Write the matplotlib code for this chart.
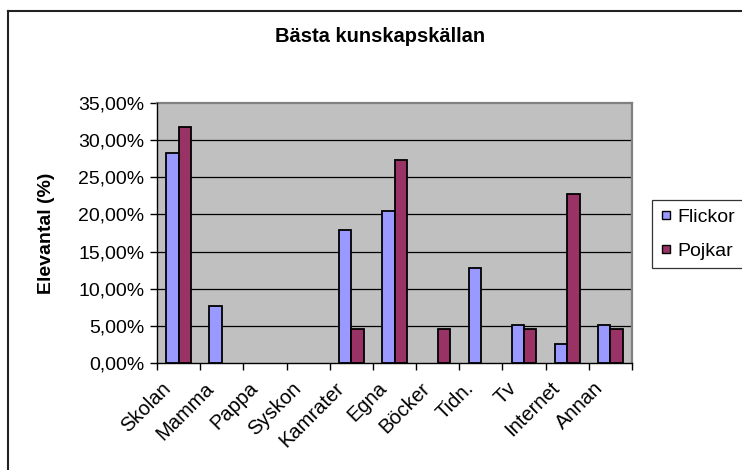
import matplotlib
matplotlib.use("Agg")
import matplotlib.pyplot as plt
from matplotlib.lines import Line2D
from matplotlib.ticker import FuncFormatter, FixedLocator
import numpy as np

plt.rcParams['font.family'] = ['Liberation Sans', 'DejaVu Sans']

title = "Bästa kunskapskällan"
ylabel = "Elevantal (%)"
categories = ["Skolan", "Mamma", "Pappa", "Syskon", "Kamrater", "Egna",
              "Böcker", "Tidn.", "Tv", "Internet", "Annan"]
series_names = ["Flickor", "Pojkar"]
flickor = [28.21, 7.69, 0.0, 0.0, 17.95, 20.51, 0.0, 12.82, 5.13, 2.56, 5.13]
pojkar = [31.82, 0.0, 0.0, 0.0, 4.55, 27.27, 4.55, 0.0, 4.55, 22.73, 4.55]
yticks = [0, 5, 10, 15, 20, 25, 30, 35]
colors = ["#9999FF", "#993366"]

W, H = 742, 470
fig = plt.figure(figsize=(W / 100, H / 100), dpi=100)
fig.patch.set_facecolor("white")

ax = fig.add_axes([157 / W, 1 - 363 / H, 475 / W, 260 / H])
ax.set_facecolor("#C0C0C0")

x = np.arange(len(categories))
bw = 0.285
lw_f = [1.3 if v > 0 else 0 for v in flickor]
lw_p = [1.3 if v > 0 else 0 for v in pojkar]
ax.bar(x - bw / 2, flickor, bw, color=colors[0], edgecolor="black", linewidth=lw_f, zorder=3)
ax.bar(x + bw / 2, pojkar, bw, color=colors[1], edgecolor="black", linewidth=lw_p, zorder=3)

ax.set_xlim(-0.5, len(categories) - 0.5)
ax.set_ylim(0, 35)

# gridlines
for t in yticks[1:-1]:
    ax.axhline(t, color="black", linewidth=0.9, zorder=1)

ax.set_yticks(yticks)
ax.yaxis.set_major_formatter(FuncFormatter(lambda v, p: f"{v:.2f}".replace(".", ",") + "%"))
ax.tick_params(axis="y", direction="out", length=5, width=1, labelsize=14, pad=4)

# x labels (offset slightly left like the original) and boundary tick marks
ax.xaxis.set_major_locator(FixedLocator(x - 0.24))
ax.set_xticklabels(categories, rotation=45, ha="right", va="center", rotation_mode="anchor", fontsize=14.5)
ax.tick_params(axis="x", which="major", length=0, pad=16)
ax.xaxis.set_minor_locator(FixedLocator(np.arange(-0.5, len(categories), 1.0)))
ax.tick_params(axis="x", which="minor", direction="out", length=5, width=1)

for s in ["top", "right"]:
    ax.spines[s].set_color("#808080")
    ax.spines[s].set_linewidth(1.6)
for s in ["left", "bottom"]:
    ax.spines[s].set_color("black")
    ax.spines[s].set_linewidth(1.0)
    ax.spines[s].set_zorder(4)

fig.text(380 / W, 1 - 37 / H, title, ha="center", va="center", fontsize=14.5, fontweight="bold")
fig.text(47 / W, 1 - 233 / H, ylabel, ha="center", va="center", rotation=90, fontsize=14, fontweight="bold")

handles = [Line2D([], [], linestyle="none", marker="s", markersize=5.5,
                  markerfacecolor=c, markeredgecolor="black", markeredgewidth=1.0)
           for c in colors]
leg = fig.legend(handles, series_names, loc="upper left", bbox_to_anchor=(652 / W, 1 - 200 / H),
                 fontsize=14, frameon=True, fancybox=False, shadow=False,
                 handlelength=0.55, handletextpad=0.35,
                 labelspacing=0.85, borderpad=0.42, borderaxespad=0)
leg.get_frame().set_edgecolor("black")
leg.get_frame().set_linewidth(0.9)

# outer chart border (top and left visible)
fig.add_artist(Line2D([8 / W, 1], [1 - 11 / H, 1 - 11 / H], transform=fig.transFigure, color="#222222", linewidth=1.5))
fig.add_artist(Line2D([8 / W, 8 / W], [0, 1 - 11 / H], transform=fig.transFigure, color="#222222", linewidth=1.5))

fig.savefig("out.png", dpi=100)
